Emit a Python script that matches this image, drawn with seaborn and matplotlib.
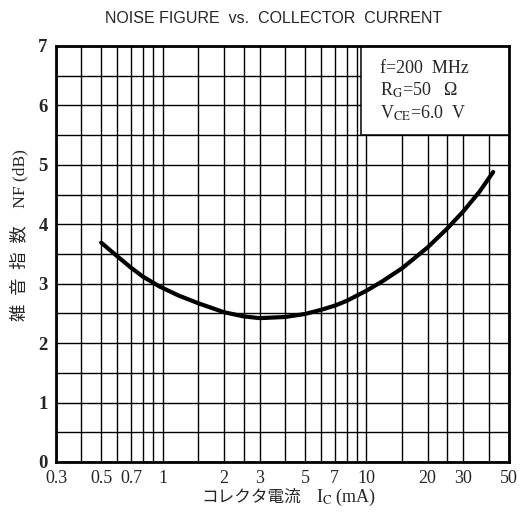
# import libraries
import numpy as np
import matplotlib
matplotlib.use('Agg')
import matplotlib.pyplot as plt
import matplotlib.ticker as mticker
from matplotlib.patches import Rectangle
import pandas as pd
import seaborn as sns

# data
ic_ma = [0.5, 0.6, 0.7, 0.8, 0.97, 1.2, 1.5, 2.0, 2.5, 3.0, 4.0, 5.0, 6.0, 7.0,
         8.0, 10.0, 12.0, 15.0, 20.0, 25.0, 30.0, 36.0, 42.0]
nf_db = [3.69, 3.46, 3.27, 3.12, 2.95, 2.80, 2.67, 2.52, 2.45, 2.42, 2.44, 2.49, 2.56, 2.63,
         2.71, 2.88, 3.04, 3.26, 3.61, 3.93, 4.22, 4.55, 4.88]

# axis ticks
x_major = [0.3, 0.5, 0.7, 1, 2, 3, 5, 7, 10, 20, 30, 50]
x_major_labels = ['0.3', '0.5', '0.7', '1', '2', '3', '5', '7', '10', '20', '30', '50']
x_minor = [0.4, 0.6, 0.8, 0.9, 1.5, 2.5, 4, 6, 8, 9, 15, 25, 40]
y_major = [0, 1, 2, 3, 4, 5, 6, 7]
y_minor = [0.5, 1.5, 2.5, 3.5, 4.5, 5.5, 6.5]

df = pd.DataFrame({'Ic': ic_ma, 'NF': nf_db})

sns.set_style('white')
plt.rcParams['font.family'] = ['Liberation Serif', 'Noto Sans CJK JP']
plt.rcParams['mathtext.fontset'] = 'stix'

fig = plt.figure(figsize=(5.26, 5.15), dpi=100)
ax = fig.add_axes([0.1065, 0.103, 0.8605, 0.8077])

# curve
sns.lineplot(data=df, x='Ic', y='NF', color='black', linewidth=3, ax=ax, zorder=3)

ax.set_xscale('log')
ax.set_xlim(0.3, 50)
ax.set_ylim(0, 7)

ax.xaxis.set_major_locator(mticker.FixedLocator(x_major))
ax.xaxis.set_major_formatter(mticker.FixedFormatter(x_major_labels))
ax.xaxis.set_minor_locator(mticker.FixedLocator(x_minor))
ax.xaxis.set_minor_formatter(mticker.NullFormatter())
ax.yaxis.set_major_locator(mticker.FixedLocator(y_major))
ax.yaxis.set_minor_locator(mticker.FixedLocator(y_minor))

ax.set_axisbelow(True)
ax.grid(True, which='both', color='black', linewidth=1.0)
ax.tick_params(which='both', length=0)
ax.tick_params(axis='x', labelsize=13, pad=6)
ax.tick_params(axis='y', labelsize=13.5, pad=6)
for lab in ax.get_yticklabels():
    lab.set_fontweight('bold')

for sp in ax.spines.values():
    sp.set_color('black')
    sp.set_linewidth(2)

# conditions box
ax.add_patch(Rectangle((0.673, 0.786), 0.33, 0.22, transform=ax.transAxes,
                       facecolor='white', edgecolor='black', linewidth=1.1, zorder=2))
ax.text(0.715, 0.935, 'f=200  MHz', transform=ax.transAxes, fontsize=13, zorder=4)
ax.text(0.715, 0.880, r'R$_\mathrm{G}$=50   Ω', transform=ax.transAxes, fontsize=13, zorder=4)
ax.text(0.715, 0.825, r'V$_\mathrm{CE}$=6.0  V', transform=ax.transAxes, fontsize=13, zorder=4)

# x label in two pieces (katakana + subscript)
ax.set_xlabel('')
fig.text(0.572, 0.035, 'コレクタ電流', ha='right', va='center', fontsize=12,
         family='Noto Sans CJK JP')
fig.text(0.60, 0.035, r'I$_\mathrm{C}$ (mA)', ha='left', va='center', fontsize=13)

# y label
ax.set_ylabel('雑  音  指  数    NF (dB)', fontsize=12.5)
ax.yaxis.set_label_coords(-0.062, 0.545)

fig.text(0.52, 0.965, 'NOISE FIGURE  vs.  COLLECTOR  CURRENT', ha='center', va='center',
         fontsize=11.5, family='Liberation Sans')

plt.savefig('out.png', dpi=100)
